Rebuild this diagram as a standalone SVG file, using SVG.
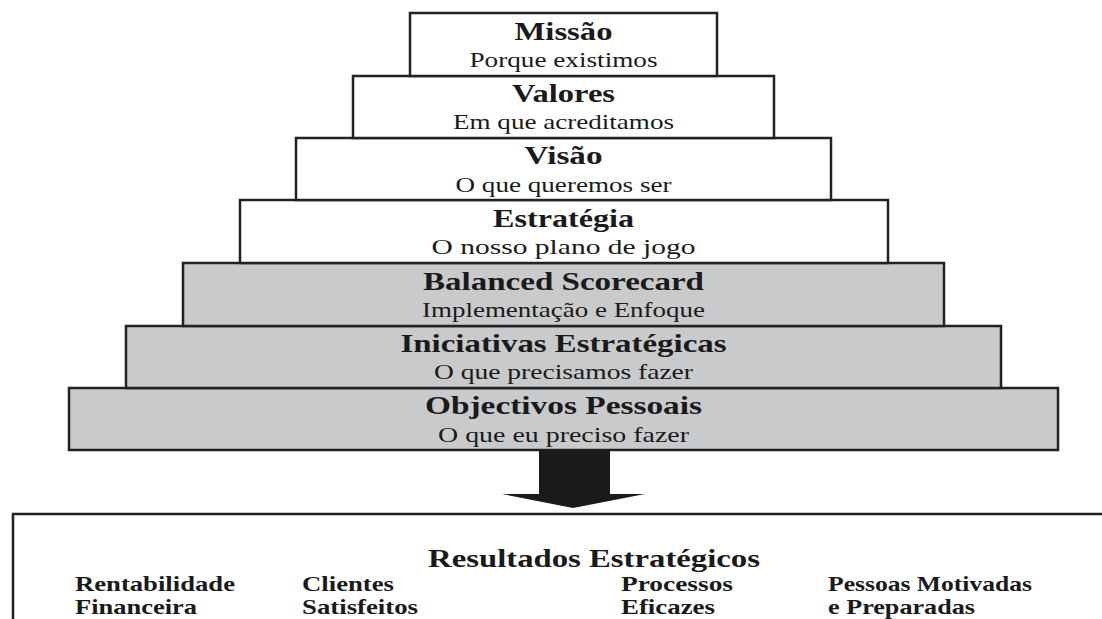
<svg xmlns="http://www.w3.org/2000/svg" width="1102" height="619" viewBox="0 0 1102 619">
  <style>
    .box { stroke: #222; stroke-width: 2.5; }
    .white { fill: #ffffff; }
    .grey { fill: #c9cacc; }
    .t { font-family: "Liberation Serif", "Times New Roman", serif; fill: #1a1a1a; text-anchor: middle; }
    .title { font-size: 25px; font-weight: bold; }
    .sub { font-size: 21px; }
    .res { font-family: "Liberation Serif", "Times New Roman", serif; fill: #1a1a1a; font-size: 22px; font-weight: bold; }
  </style>
  <rect width="1102" height="619" fill="#ffffff"/>

  <!-- pyramid layers, bottom to top so upper outlines stay visible -->
  <g id="objectivos">
    <rect class="box grey" x="69" y="388" width="989" height="62"/>
    <text class="t title" x="563.5" y="414" textLength="277" lengthAdjust="spacingAndGlyphs">Objectivos Pessoais</text>
    <text class="t sub" x="563.5" y="442" textLength="251" lengthAdjust="spacingAndGlyphs">O que eu preciso fazer</text>
  </g>
  <g id="iniciativas">
    <rect class="box grey" x="126" y="326" width="875" height="62"/>
    <text class="t title" x="563.5" y="352" textLength="326" lengthAdjust="spacingAndGlyphs">Iniciativas Estratégicas</text>
    <text class="t sub" x="563.5" y="379" textLength="259" lengthAdjust="spacingAndGlyphs">O que precisamos fazer</text>
  </g>
  <g id="balanced">
    <rect class="box grey" x="183" y="263" width="761" height="63"/>
    <text class="t title" x="563.5" y="290" textLength="281" lengthAdjust="spacingAndGlyphs">Balanced Scorecard</text>
    <text class="t sub" x="563.5" y="317" textLength="283" lengthAdjust="spacingAndGlyphs">Implementação e Enfoque</text>
  </g>
  <g id="estrategia">
    <rect class="box white" x="240" y="200" width="648" height="63"/>
    <text class="t title" x="563.5" y="227" textLength="141" lengthAdjust="spacingAndGlyphs">Estratégia</text>
    <text class="t sub" x="563.5" y="254" textLength="264" lengthAdjust="spacingAndGlyphs">O nosso plano de jogo</text>
  </g>
  <g id="visao">
    <rect class="box white" x="296" y="138" width="535" height="62"/>
    <text class="t title" x="563.5" y="164" textLength="78" lengthAdjust="spacingAndGlyphs">Visão</text>
    <text class="t sub" x="563.5" y="192" textLength="216" lengthAdjust="spacingAndGlyphs">O que queremos ser</text>
  </g>
  <g id="valores">
    <rect class="box white" x="353" y="76" width="421" height="62"/>
    <text class="t title" x="563.5" y="102" textLength="103" lengthAdjust="spacingAndGlyphs">Valores</text>
    <text class="t sub" x="563.5" y="129" textLength="221" lengthAdjust="spacingAndGlyphs">Em que acreditamos</text>
  </g>
  <g id="missao">
    <rect class="box white" x="410" y="13" width="307" height="63"/>
    <text class="t title" x="563.5" y="40" textLength="98" lengthAdjust="spacingAndGlyphs">Missão</text>
    <text class="t sub" x="563.5" y="67" textLength="188" lengthAdjust="spacingAndGlyphs">Porque existimos</text>
  </g>

  <!-- block arrow down to results -->
  <g id="connectors">
    <polygon points="539,450 610,450 610,494 645,494 573,508 502,494 539,494" fill="#1a1a1a"/>
  </g>

  <g id="resultados">
    <rect class="box white" x="13" y="514" width="1100" height="120"/>
    <text class="t title" x="594" y="567" textLength="332" lengthAdjust="spacingAndGlyphs">Resultados Estratégicos</text>
    <text class="res" x="75" y="591" textLength="160" lengthAdjust="spacingAndGlyphs">Rentabilidade</text>
    <text class="res" x="75" y="614" textLength="122" lengthAdjust="spacingAndGlyphs">Financeira</text>
    <text class="res" x="302" y="591" textLength="92" lengthAdjust="spacingAndGlyphs">Clientes</text>
    <text class="res" x="302" y="614" textLength="116" lengthAdjust="spacingAndGlyphs">Satisfeitos</text>
    <text class="res" x="621" y="591" textLength="112" lengthAdjust="spacingAndGlyphs">Processos</text>
    <text class="res" x="621" y="614" textLength="94" lengthAdjust="spacingAndGlyphs">Eficazes</text>
    <text class="res" x="828" y="591" textLength="204" lengthAdjust="spacingAndGlyphs">Pessoas Motivadas</text>
    <text class="res" x="828" y="614" textLength="147" lengthAdjust="spacingAndGlyphs">e Preparadas</text>
  </g>
</svg>
